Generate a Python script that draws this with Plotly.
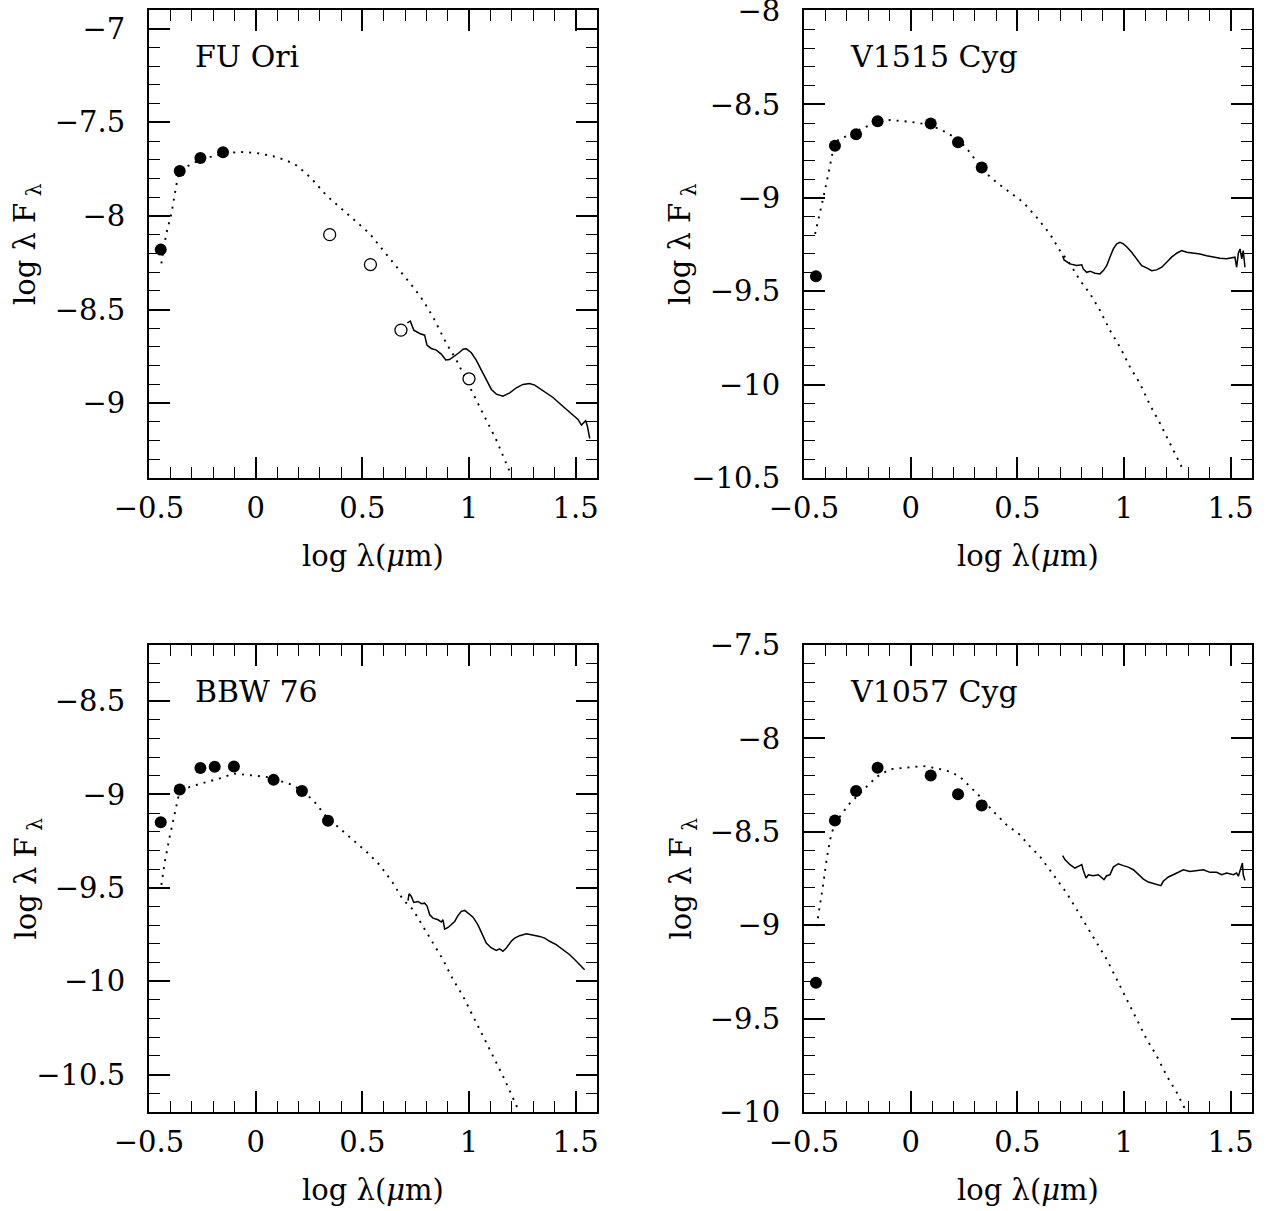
import plotly.graph_objects as go

# ---------------- data ----------------
panel_names = ["FU Ori", "V1515 Cyg", "BBW 76", "V1057 Cyg"]
y_ranges = [[-9.4, -6.9], [-10.5, -7.995], [-10.7, -8.2], [-10.0, -7.5]]
x_range = [-0.5, 1.6]

# FU Ori
fu_phot_x = [-0.445, -0.356, -0.259, -0.153]
fu_phot_y = [-8.18, -7.76, -7.69, -7.66]
fu_open_x = [0.347, 0.538, 0.681, 1.0]
fu_open_y = [-8.10, -8.26, -8.61, -8.87]
fu_model_x = [-0.442, -0.419, -0.395, -0.372, -0.356, -0.309, -0.259, -0.153, -0.075, 0.003,
              0.081, 0.144, 0.191, 0.2375, 0.269, 0.331, 0.394, 0.456, 0.534, 0.597,
              0.675, 0.7375, 0.784, 0.831, 0.894, 0.941, 1.003, 1.066, 1.128, 1.191]
fu_model_y = [-8.254, -8.094, -7.988, -7.836, -7.756, -7.730, -7.699, -7.667, -7.658, -7.664,
              -7.681, -7.703, -7.730, -7.774, -7.810, -7.890, -7.952, -8.014, -8.094, -8.183,
              -8.290, -8.379, -8.450, -8.539, -8.681, -8.770, -8.913, -9.055, -9.197, -9.366]
fu_spec_x = [0.711, 0.725, 0.741, 0.769, 0.792, 0.803, 0.823, 0.847, 0.870, 0.891,
             0.909, 0.933, 0.953, 0.972, 0.9875, 1.011, 1.034, 1.058, 1.081, 1.105,
             1.128, 1.159, 1.191, 1.222, 1.253, 1.284, 1.308, 1.331, 1.3625, 1.394,
             1.425, 1.456, 1.4875, 1.511, 1.527, 1.5375, 1.547, 1.555, 1.566]
fu_spec_y = [-8.571, -8.562, -8.610, -8.628, -8.637, -8.690, -8.708, -8.717, -8.738, -8.770,
             -8.767, -8.749, -8.731, -8.712, -8.710, -8.731, -8.770, -8.824, -8.877, -8.927,
             -8.952, -8.963, -8.945, -8.918, -8.900, -8.895, -8.904, -8.922, -8.945, -8.970,
             -9.002, -9.034, -9.064, -9.087, -9.117, -9.105, -9.094, -9.123, -9.189]

# V1515 Cyg
v15_phot_x = [-0.444, -0.355, -0.256, -0.155, 0.094, 0.222, 0.333]
v15_phot_y = [-9.42, -8.722, -8.660, -8.591, -8.603, -8.703, -8.838]
v15_model_x = [-0.448, -0.425, -0.409, -0.386, -0.366, -0.347, -0.300, -0.253, -0.155, -0.097,
               -0.003, 0.091, 0.169, 0.231, 0.278, 0.341, 0.403, 0.466, 0.528, 0.591,
               0.653, 0.700, 0.747, 0.794, 0.841, 0.8875, 0.934, 0.981, 1.028, 1.075,
               1.122, 1.169, 1.216, 1.270]
v15_model_y = [-9.194, -9.087, -8.998, -8.874, -8.758, -8.696, -8.669, -8.642, -8.593, -8.584,
               -8.593, -8.610, -8.651, -8.696, -8.758, -8.856, -8.918, -8.972, -9.025, -9.105,
               -9.194, -9.283, -9.354, -9.443, -9.514, -9.603, -9.710, -9.799, -9.906, -9.995,
               -10.110, -10.208, -10.315, -10.440]
v15_spec_x = [0.7125, 0.719, 0.747, 0.778, 0.802, 0.809, 0.825, 0.841, 0.864, 0.8875,
              0.903, 0.919, 0.934, 0.950, 0.966, 0.981, 0.997, 1.0125, 1.036, 1.059,
              1.083, 1.106, 1.130, 1.153, 1.177, 1.200, 1.223, 1.247, 1.270, 1.294,
              1.325, 1.356, 1.3875, 1.419, 1.450, 1.481, 1.505, 1.520, 1.528, 1.536,
              1.544, 1.552, 1.559, 1.567]
v15_spec_y = [-9.310, -9.333, -9.354, -9.363, -9.359, -9.381, -9.399, -9.393, -9.404, -9.4075,
              -9.390, -9.363, -9.318, -9.274, -9.247, -9.238, -9.247, -9.262, -9.292, -9.327,
              -9.363, -9.375, -9.390, -9.386, -9.372, -9.345, -9.318, -9.297, -9.283, -9.292,
              -9.295, -9.301, -9.310, -9.318, -9.324, -9.327, -9.322, -9.318, -9.372, -9.297,
              -9.274, -9.327, -9.283, -9.372]

# BBW 76
bbw_phot_x = [-0.445, -0.356, -0.259, -0.192, -0.102, 0.084, 0.217, 0.339]
bbw_phot_y = [-9.149, -8.973, -8.859, -8.852, -8.851, -8.922, -8.982, -9.141]
bbw_model_x = [-0.442, -0.427, -0.403, -0.380, -0.359, -0.309, -0.231, -0.153, -0.106, -0.028,
               0.050, 0.1125, 0.175, 0.222, 0.269, 0.331, 0.394, 0.456, 0.519, 0.581,
               0.644, 0.691, 0.7375, 0.784, 0.831, 0.878, 0.925, 0.972, 1.019, 1.066,
               1.1125, 1.159, 1.198, 1.230]
bbw_model_y = [-9.484, -9.368, -9.226, -9.101, -8.995, -8.959, -8.932, -8.909, -8.888, -8.897,
               -8.906, -8.927, -8.950, -8.986, -9.030, -9.119, -9.181, -9.244, -9.306, -9.377,
               -9.475, -9.564, -9.617, -9.706, -9.795, -9.884, -9.991, -10.080, -10.187, -10.294,
               -10.400, -10.507, -10.605, -10.685]
bbw_spec_x = [0.714, 0.719, 0.730, 0.741, 0.761, 0.777, 0.792, 0.803, 0.816, 0.831,
              0.855, 0.870, 0.878, 0.886, 0.902, 0.917, 0.933, 0.948, 0.964, 0.980,
              0.995, 1.019, 1.042, 1.058, 1.081, 1.105, 1.128, 1.144, 1.159, 1.175,
              1.198, 1.214, 1.2375, 1.269, 1.300, 1.331, 1.355, 1.378, 1.409, 1.441,
              1.472, 1.495, 1.519, 1.542]
bbw_spec_y = [-9.568, -9.532, -9.546, -9.578, -9.573, -9.585, -9.582, -9.596, -9.644, -9.662,
              -9.671, -9.683, -9.671, -9.721, -9.712, -9.698, -9.680, -9.649, -9.626, -9.621,
              -9.635, -9.657, -9.698, -9.742, -9.795, -9.822, -9.835, -9.827, -9.840, -9.822,
              -9.786, -9.769, -9.756, -9.746, -9.751, -9.760, -9.769, -9.786, -9.804, -9.831,
              -9.858, -9.884, -9.911, -9.938]

# V1057 Cyg
v57_phot_x = [-0.444, -0.355, -0.256, -0.155, 0.094, 0.222, 0.333]
v57_phot_y = [-9.308, -8.440, -8.281, -8.157, -8.199, -8.299, -8.359]
v57_model_x = [-0.441, -0.425, -0.409, -0.394, -0.378, -0.3625, -0.331, -0.292, -0.253, -0.206,
               -0.159, -0.097, -0.019, 0.059, 0.122, 0.184, 0.231, 0.278, 0.333, 0.3875,
               0.450, 0.5125, 0.559, 0.606, 0.669, 0.731, 0.778, 0.825, 0.872, 0.919,
               0.966, 1.0125, 1.059, 1.106, 1.153, 1.200, 1.247, 1.286]
v57_model_y = [-9.005, -8.899, -8.774, -8.649, -8.543, -8.480, -8.418, -8.356, -8.311, -8.258,
               -8.205, -8.165, -8.155, -8.148, -8.160, -8.178, -8.205, -8.258, -8.320, -8.391,
               -8.463, -8.516, -8.578, -8.632, -8.730, -8.827, -8.916, -9.005, -9.094, -9.183,
               -9.290, -9.397, -9.504, -9.610, -9.699, -9.806, -9.895, -9.984]
v57_spec_x = [0.7125, 0.723, 0.747, 0.770, 0.786, 0.802, 0.809, 0.822, 0.833, 0.856,
              0.880, 0.895, 0.906, 0.919, 0.934, 0.950, 0.973, 0.997, 1.020, 1.044,
              1.067, 1.091, 1.114, 1.1375, 1.161, 1.173, 1.184, 1.208, 1.231, 1.255,
              1.278, 1.309, 1.341, 1.372, 1.403, 1.434, 1.458, 1.481, 1.5125, 1.528,
              1.536, 1.547, 1.555, 1.559, 1.567]
v57_spec_y = [-8.628, -8.649, -8.676, -8.694, -8.685, -8.676, -8.706, -8.747, -8.730, -8.735,
              -8.730, -8.747, -8.756, -8.735, -8.730, -8.689, -8.671, -8.681, -8.689, -8.703,
              -8.730, -8.753, -8.769, -8.778, -8.783, -8.788, -8.765, -8.742, -8.730, -8.717,
              -8.703, -8.712, -8.706, -8.703, -8.717, -8.717, -8.730, -8.721, -8.730, -8.721,
              -8.738, -8.699, -8.667, -8.730, -8.760]

# ---------------- figure ----------------
FONT = "DejaVu Serif"
FS = 29
W, H = 1273, 1211
# panel boxes in window pixels (left, right, top, bottom)
boxes = [(149, 597, 10, 478), (804, 1252, 10, 478),
         (149, 597, 645, 1112), (804, 1252, 645, 1112)]

panels = [
    dict(phot=(fu_phot_x, fu_phot_y), open=(fu_open_x, fu_open_y),
         model=(fu_model_x, fu_model_y), spec=(fu_spec_x, fu_spec_y)),
    dict(phot=(v15_phot_x, v15_phot_y), open=None,
         model=(v15_model_x, v15_model_y), spec=(v15_spec_x, v15_spec_y)),
    dict(phot=(bbw_phot_x, bbw_phot_y), open=None,
         model=(bbw_model_x, bbw_model_y), spec=(bbw_spec_x, bbw_spec_y)),
    dict(phot=(v57_phot_x, v57_phot_y), open=None,
         model=(v57_model_x, v57_model_y), spec=(v57_spec_x, v57_spec_y)),
]


def fx(px):
    return px / W


def fy(py):
    return 1 - py / H


fig = go.Figure()
layout = dict(width=W, height=H, margin=dict(l=0, r=0, t=0, b=0, autoexpand=False),
              paper_bgcolor="white", plot_bgcolor="white", showlegend=False,
              font=dict(family=FONT, size=FS, color="black"))
annotations = []

for i, (p, box) in enumerate(zip(panels, boxes)):
    n = "" if i == 0 else str(i + 1)
    xa, ya = "x" + n, "y" + n
    l, r, t, b = box
    xdom = [fx(l), fx(r)]
    ydom = [fy(b), fy(t)]
    axis_common = dict(showgrid=False, zeroline=False, showline=True, linecolor="black",
                       linewidth=2, mirror="ticks", ticks="inside", ticklen=21,
                       tickwidth=1.5, tickcolor="black", dtick=0.5, automargin=False,
                       ticklabeloverflow="allow",
                       minor=dict(ticks="inside", dtick=0.1, ticklen=11, tickwidth=1.3,
                                  tickcolor="black", showgrid=False),
                       tickfont=dict(family=FONT, size=FS, color="black"))
    layout["xaxis" + n] = dict(axis_common, domain=xdom, range=x_range, anchor=ya,
                               tick0=0, ticklabelstandoff=3)
    layout["yaxis" + n] = dict(axis_common, domain=ydom, range=y_ranges[i], anchor=xa,
                               tick0=0, ticklabelstandoff=16)

    mx, my = p["model"]
    fig.add_trace(go.Scatter(x=mx, y=my, mode="lines", xaxis=xa, yaxis=ya,
                             line=dict(color="black", width=1.9, dash="2px,6px")))
    sx, sy = p["spec"]
    fig.add_trace(go.Scatter(x=sx, y=sy, mode="lines", xaxis=xa, yaxis=ya,
                             line=dict(color="black", width=1.5)))
    px_, py_ = p["phot"]
    fig.add_trace(go.Scatter(x=px_, y=py_, mode="markers", xaxis=xa, yaxis=ya,
                             marker=dict(color="black", size=12, line=dict(width=0))))
    if p["open"] is not None:
        ox, oy = p["open"]
        fig.add_trace(go.Scatter(x=ox, y=oy, mode="markers", xaxis=xa, yaxis=ya,
                                 marker=dict(color="white", size=12, symbol="circle",
                                             line=dict(color="black", width=1.3))))

    # panel name
    annotations.append(dict(text=panel_names[i], xref=xa + " domain", yref=ya + " domain",
                            x=0.098, y=0.90, xanchor="left", yanchor="middle",
                            showarrow=False, font=dict(family=FONT, size=30, color="black")))
    # axis titles
    annotations.append(dict(text="log λ(<i>μ</i>m)", xref="paper", yref="paper",
                            x=fx((l + r) / 2), y=fy(b + 78), xanchor="center",
                            yanchor="middle", showarrow=False,
                            font=dict(family=FONT, size=FS, color="black")))
    annotations.append(dict(text="log λ F<sub> λ</sub>", xref="paper", yref="paper",
                            x=fx(l - 122), y=fy((t + b) / 2), xanchor="center",
                            yanchor="middle", textangle=-90, showarrow=False,
                            font=dict(family=FONT, size=FS, color="black")))

layout["annotations"] = annotations
fig.update_layout(**layout)
fig.write_html("out.html", config={"displayModeBar": False},
               post_script="document.body.style.margin='0';document.body.style.overflow='hidden';")
